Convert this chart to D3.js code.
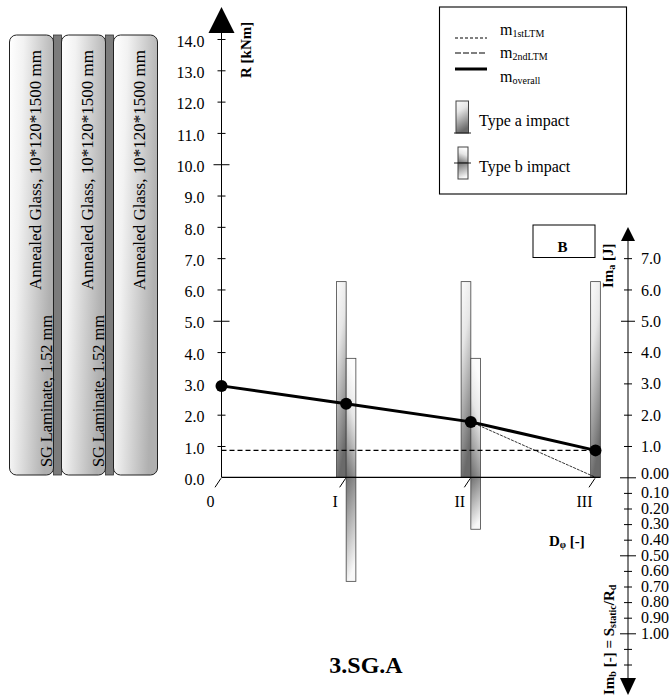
<!DOCTYPE html>
<html>
<head>
<meta charset="utf-8">
<script src="https://cdn.jsdelivr.net/npm/d3@7"></script>
<style>
  body { margin: 0; background: #fff; }
  svg text { font-family: "Liberation Serif", "Times New Roman", serif; fill: #000; }
</style>
</head>
<body>
<div id="chart"></div>
<script>
// damage stages on the x axis
const stages = ["0", "I", "II", "III"];

// moment resistance R [kNm]
const overall   = [2.92, 2.35, 1.77, 0.86];
const secondLTM = [0.86, 0.86, 0.86, 0.86];
const firstLTM  = [null, null, 1.77, 0.0];

// impacts
const typeAStages = ["I", "II", "III"];
const typeAEnergy = [6.25, 6.25, 6.25];
const typeBStages = ["I", "II"];
const typeBEnergy = [3.8, 3.8];
const typeBRatio  = [0.667, 0.333];

// ticks
const rTicks   = [0, 1, 2, 3, 4, 5, 6, 7, 8, 9, 10, 11, 12, 13, 14];
const imaTicks = [1, 2, 3, 4, 5, 6, 7];
const imbTicks = [0, 0.1, 0.2, 0.3, 0.4, 0.5, 0.6, 0.7, 0.8, 0.9, 1.0, 1.1, 1.2];
const imbLastLabel = 1.0;

// cross-section layers
const glassLayers = ["Annealed Glass, 10*120*1500 mm", "Annealed Glass, 10*120*1500 mm", "Annealed Glass, 10*120*1500 mm"];
const interlayers = ["SG Laminate, 1.52 mm", "SG Laminate, 1.52 mm", null];

const W = 672, H = 698;

const svg = d3.select("#chart")
  .append("svg")
  .attr("width", W)
  .attr("height", H);

const defs = svg.append("defs");
function grad(id, x1, y1, x2, y2, stops) {
  const g = defs.append("linearGradient")
    .attr("id", id)
    .attr("x1", x1).attr("y1", y1).attr("x2", x2).attr("y2", y2);
  stops.forEach(([o, c]) => g.append("stop").attr("offset", o).attr("stop-color", c));
}
grad("gradA", 0, 0, 0.25, 1, [[0, "#fcfcfc"], [0.35, "#e6e6e6"], [1, "#6a6a6a"]]);
grad("gradBUp", 0.25, 0, 0, 1, [[0, "#fcfcfc"], [0.35, "#e6e6e6"], [1, "#6a6a6a"]]);
grad("gradBDown", 0, 0, 0.25, 1, [[0, "#707070"], [1, "#f8f8f8"]]);
grad("gradPanel", 0, 0, 1, 0.3, [[0, "#ffffff"], [0.3, "#f2f2f2"], [1, "#b0b0b0"]]);

// scales
const x = d3.scalePoint().domain(stages).range([221.5, 595.5]);
const y = d3.scaleLinear().domain([0, 14]).range([477.3, 39]);
const ya = d3.scaleLinear().domain([0, 7]).range([y(0), y(7)]);
const yb = d3.scaleLinear().domain([0, 1]).range([y(0), 633.3]);
const y0 = y(0);
const rightX = 628;
const barW = 9.7;

// =====================
// CROSS-SECTION PANELS
// =====================
const panelX = d3.scaleBand()
  .domain(d3.range(glassLayers.length))
  .range([9.5, 157.5])
  .paddingInner(0.154);
const panelTop = 35, panelH = 440;

const panels = svg.append("g");
d3.range(glassLayers.length - 1).forEach(i => {
  panels.append("rect")
    .attr("x", panelX(i) + panelX.bandwidth())
    .attr("y", panelTop)
    .attr("width", panelX.step() - panelX.bandwidth())
    .attr("height", panelH)
    .attr("fill", "#7c7c7c")
    .attr("stroke", "#333")
    .attr("stroke-width", 0.8);
});
glassLayers.forEach((t, i) => {
  const px = panelX(i);
  panels.append("rect")
    .attr("x", px)
    .attr("y", panelTop)
    .attr("width", panelX.bandwidth())
    .attr("height", panelH)
    .attr("rx", 7)
    .attr("fill", "url(#gradPanel)")
    .attr("stroke", "#222")
    .attr("stroke-width", 1);
  panels.append("text")
    .attr("transform", `translate(${px + 31},290) rotate(-90)`)
    .attr("font-size", 17)
    .attr("textLength", 240)
    .attr("lengthAdjust", "spacing")
    .text(t);
  if (interlayers[i]) {
    panels.append("text")
      .attr("transform", `translate(${px + 42},467) rotate(-90)`)
      .attr("font-size", 16.5)
      .attr("textLength", 152)
      .attr("lengthAdjust", "spacing")
      .text(interlayers[i]);
  }
});

// =====================
// BARS
// =====================
const bars = svg.append("g").attr("stroke", "#444").attr("stroke-width", 0.8);

typeAStages.forEach((s, i) => {
  const left = typeBStages.includes(s) ? x(s) - barW : x(s) - barW / 2;
  bars.append("rect")
    .attr("x", left)
    .attr("y", ya(typeAEnergy[i]))
    .attr("width", barW)
    .attr("height", y0 - ya(typeAEnergy[i]))
    .attr("fill", "url(#gradA)");
});

typeBStages.forEach((s, i) => {
  bars.append("rect")
    .attr("x", x(s))
    .attr("y", ya(typeBEnergy[i]))
    .attr("width", barW)
    .attr("height", y0 - ya(typeBEnergy[i]))
    .attr("fill", "url(#gradBUp)");
  bars.append("rect")
    .attr("x", x(s))
    .attr("y", y0)
    .attr("width", barW)
    .attr("height", yb(typeBRatio[i]) - y0)
    .attr("fill", "url(#gradBDown)");
});

// =====================
// LEFT AXIS R
// =====================
svg.append("line")
  .attr("x1", x("0")).attr("x2", x("0"))
  .attr("y1", y0).attr("y2", 33)
  .attr("stroke", "#000");
svg.append("path")
  .attr("d", `M${x("0") - 13},33 L${x("0") + 13},33 L${x("0")},7 Z`)
  .attr("fill", "#000");

svg.append("g")
  .attr("transform", `translate(${x("0")},0)`)
  .call(d3.axisLeft(y).tickValues(rTicks).tickFormat(d3.format(".1f")).tickSize(4).tickPadding(13))
  .call(g => g.select(".domain").remove())
  .call(g => g.selectAll(".tick line")
    .attr("x1", d => d === 0 ? 0 : d % 5 === 0 ? 8 : 4)
    .attr("x2", d => d === 0 ? 0 : d % 5 === 0 ? -8 : -4)
    .attr("stroke", "#000"))
  .call(g => g.selectAll("text")
    .attr("font-size", 16)
    .attr("font-family", "Liberation Serif")
    .attr("dy", "0.45em"));

svg.append("text")
  .attr("transform", "translate(251,78) rotate(-90)")
  .attr("font-size", 15)
  .attr("font-weight", "bold")
  .text("R [kNm]");

// =====================
// X AXIS
// =====================
svg.append("line")
  .attr("x1", x("0")).attr("x2", x("III") + barW / 2)
  .attr("y1", y0).attr("y2", y0)
  .attr("stroke", "#000")
  .attr("stroke-width", 1.2);

stages.forEach(s => {
  svg.append("line")
    .attr("x1", x(s) - 6.5).attr("y1", y0 + 10)
    .attr("x2", x(s) - 0.5).attr("y2", y0 + 1)
    .attr("stroke", "#000");
  svg.append("text")
    .attr("x", x(s) - 11)
    .attr("y", 507)
    .attr("text-anchor", "middle")
    .attr("font-size", 16)
    .text(s);
});

const dLabel = svg.append("text")
  .attr("x", 549).attr("y", 546)
  .attr("font-size", 15)
  .attr("font-weight", "bold");
dLabel.append("tspan").text("D");
dLabel.append("tspan").attr("font-size", 10).attr("dy", 2).text("φ");
dLabel.append("tspan").attr("dy", -2).text(" [-]");

// =====================
// RIGHT AXES Im_a / Im_b
// =====================
svg.append("line")
  .attr("x1", rightX).attr("x2", rightX)
  .attr("y1", 241).attr("y2", 678)
  .attr("stroke", "#000");
svg.append("path")
  .attr("d", `M${rightX - 7},241 L${rightX + 7},241 L${rightX},227 Z`)
  .attr("fill", "#000");
svg.append("path")
  .attr("d", `M${rightX - 8},678 L${rightX + 8},678 L${rightX},695 Z`)
  .attr("fill", "#000");

svg.append("g")
  .attr("transform", `translate(${rightX},0)`)
  .call(d3.axisRight(ya).tickValues(imaTicks).tickFormat(d3.format(".1f")).tickSize(4).tickPadding(9))
  .call(g => g.select(".domain").remove())
  .call(g => g.selectAll(".tick line")
    .attr("x1", d => d === 5 ? -7 : -4)
    .attr("x2", d => d === 5 ? 7 : 4)
    .attr("stroke", "#000"))
  .call(g => g.selectAll("text")
    .attr("font-size", 16)
    .attr("font-family", "Liberation Serif")
    .attr("dy", "0.35em"));

svg.append("g")
  .attr("transform", `translate(${rightX},0)`)
  .call(d3.axisRight(yb).tickValues(imbTicks)
    .tickFormat(d => d <= imbLastLabel + 1e-6 ? d.toFixed(2) : "")
    .tickSize(4).tickPadding(9))
  .call(g => g.select(".domain").remove())
  .call(g => g.selectAll(".tick line")
    .attr("x1", d => Math.round(d * 10) % 5 === 0 && d <= imbLastLabel + 1e-6 ? -8 : -4)
    .attr("x2", d => Math.round(d * 10) % 5 === 0 && d <= imbLastLabel + 1e-6 ? 8 : 4)
    .attr("stroke", "#000"))
  .call(g => g.selectAll("text")
    .attr("font-size", 16)
    .attr("font-family", "Liberation Serif")
    .attr("dy", d => d === 0 ? "0.1em" : "0.3em"));

const imaLabel = svg.append("text")
  .attr("transform", "translate(613,288) rotate(-90)")
  .attr("font-size", 15)
  .attr("font-weight", "bold");
imaLabel.append("tspan").text("Im");
imaLabel.append("tspan").attr("font-size", 10).attr("dy", 2).text("a");
imaLabel.append("tspan").attr("dy", -2).text(" [J]");

const imbLabel = svg.append("text")
  .attr("transform", "translate(614,695) rotate(-90)")
  .attr("font-size", 15)
  .attr("font-weight", "bold");
imbLabel.append("tspan").text("Im");
imbLabel.append("tspan").attr("font-size", 10).attr("dy", 2).text("b");
imbLabel.append("tspan").attr("dy", -2).text(" [-] = S");
imbLabel.append("tspan").attr("font-size", 10).attr("dy", 2).text("static");
imbLabel.append("tspan").attr("dy", -2).text("/R");
imbLabel.append("tspan").attr("font-size", 10).attr("dy", 2).text("d");

// =====================
// LINES
// =====================
const line = d3.line()
  .defined(d => d !== null)
  .x((d, i) => x(stages[i]))
  .y(d => y(d));

svg.append("path")
  .attr("d", line(secondLTM))
  .attr("fill", "none")
  .attr("stroke", "#000")
  .attr("stroke-width", 1.1)
  .attr("stroke-dasharray", "5,3");

svg.append("path")
  .attr("d", line(firstLTM))
  .attr("fill", "none")
  .attr("stroke", "#000")
  .attr("stroke-width", 0.8)
  .attr("stroke-dasharray", "3,1");

svg.append("path")
  .attr("d", line(overall))
  .attr("fill", "none")
  .attr("stroke", "#000")
  .attr("stroke-width", 3);

svg.selectAll("circle.pt")
  .data(overall)
  .join("circle")
  .attr("class", "pt")
  .attr("cx", (d, i) => x(stages[i]))
  .attr("cy", d => y(d))
  .attr("r", 6)
  .attr("fill", "#000");

// =====================
// BOX B + TITLE
// =====================
svg.append("rect")
  .attr("x", 533).attr("y", 225)
  .attr("width", 62).attr("height", 32.5)
  .attr("fill", "#fff")
  .attr("stroke", "#000");
svg.append("text")
  .attr("x", 562.5).attr("y", 252)
  .attr("text-anchor", "middle")
  .attr("font-size", 15)
  .attr("font-weight", "bold")
  .text("B");

svg.append("text")
  .attr("x", 366).attr("y", 673)
  .attr("text-anchor", "middle")
  .attr("font-size", 24)
  .attr("font-weight", "bold")
  .text("3.SG.A");

// =====================
// LEGEND
// =====================
const legend = svg.append("g");
legend.append("rect")
  .attr("x", 439.5).attr("y", 7)
  .attr("width", 187).attr("height", 187)
  .attr("fill", "#fff")
  .attr("stroke", "#000")
  .attr("stroke-width", 1.1);

const legLines = [
  { y: 38, dash: "3,2", w: 1, label: "1stLTM", ty: 35 },
  { y: 53, dash: "6,2", w: 1.2, label: "2ndLTM", ty: 58 },
  { y: 69, dash: null, w: 3, label: "overall", ty: 82 }
];
legLines.forEach(l => {
  legend.append("line")
    .attr("x1", 455).attr("x2", 487)
    .attr("y1", l.y).attr("y2", l.y)
    .attr("stroke", "#000")
    .attr("stroke-width", l.w)
    .attr("stroke-dasharray", l.dash);
  const t = legend.append("text")
    .attr("x", 500).attr("y", l.ty)
    .attr("font-size", 16);
  t.append("tspan").text("m");
  t.append("tspan").attr("font-size", 10).attr("dy", 2).text(l.label);
});

legend.append("rect")
  .attr("x", 456).attr("y", 101)
  .attr("width", 12.5).attr("height", 32)
  .attr("fill", "url(#gradA)")
  .attr("stroke", "#444");
legend.append("line")
  .attr("x1", 454).attr("x2", 471)
  .attr("y1", 133).attr("y2", 133)
  .attr("stroke", "#222");
legend.append("text")
  .attr("x", 479).attr("y", 126)
  .attr("font-size", 16)
  .text("Type a impact");

legend.append("rect")
  .attr("x", 458).attr("y", 147)
  .attr("width", 10).attr("height", 16)
  .attr("fill", "url(#gradBUp)")
  .attr("stroke", "#444");
legend.append("rect")
  .attr("x", 458).attr("y", 163)
  .attr("width", 10).attr("height", 16)
  .attr("fill", "url(#gradBDown)")
  .attr("stroke", "#444");
legend.append("line")
  .attr("x1", 454).attr("x2", 471)
  .attr("y1", 163).attr("y2", 163)
  .attr("stroke", "#222");
legend.append("text")
  .attr("x", 479).attr("y", 172)
  .attr("font-size", 16)
  .text("Type b impact");
</script>
</body>
</html>
